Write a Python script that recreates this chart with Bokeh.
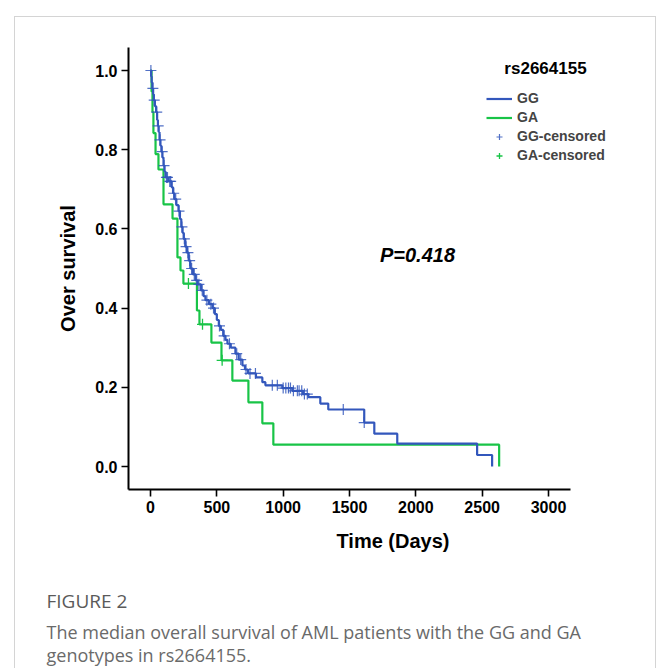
import numpy as np
from bokeh.plotting import figure
from bokeh.models import (Range1d, Legend, LegendItem, Label,
                          FixedTicker, PrintfTickFormatter)
from bokeh.embed import file_html
from bokeh.resources import INLINE

# ---------------- data ----------------
x_ticks = [0, 500, 1000, 1500, 2000, 2500, 3000]
y_ticks = [0.0, 0.2, 0.4, 0.6, 0.8, 1.0]

gg_time = [0, 5, 9, 14, 20, 25, 33, 42, 50, 56,
           62, 68, 75, 82, 90, 98, 106, 113, 135, 160,
           170, 180, 195, 211, 222, 232, 242, 250, 262, 275,
           288, 300, 320, 340, 356, 380, 400, 414, 440, 467,
           485, 500, 515, 530, 548, 565, 580, 605, 640, 665,
           693, 712, 735, 795, 843, 866, 994, 1069, 1150, 1190,
           1280, 1340, 1611, 1687, 1860, 2462, 2575]
gg_surv = [1.0, 0.985, 0.97, 0.955, 0.94, 0.925, 0.91, 0.895, 0.875, 0.86,
           0.845, 0.825, 0.81, 0.795, 0.78, 0.76, 0.745, 0.73, 0.72, 0.705,
           0.69, 0.675, 0.66, 0.645, 0.625, 0.605, 0.59, 0.575, 0.555, 0.54,
           0.52, 0.50, 0.485, 0.47, 0.46, 0.445, 0.43, 0.42, 0.41, 0.40,
           0.385, 0.37, 0.355, 0.345, 0.33, 0.32, 0.31, 0.30, 0.285, 0.27,
           0.255, 0.245, 0.235, 0.225, 0.213, 0.205, 0.198, 0.191, 0.183, 0.175,
           0.159, 0.144, 0.111, 0.083, 0.058, 0.029, 0.0]
gg_censored = [3, 18, 28, 47, 58, 72, 88, 102, 120, 128,
               145, 152, 175, 190, 215, 237, 255, 268, 282, 295,
               310, 330, 348, 365, 390, 425, 455, 475, 520, 555,
               595, 650, 680, 720, 750, 791, 918, 956, 1000, 1020,
               1040, 1055, 1077, 1107, 1120, 1140, 1160, 1182, 1453, 1611]

ga_time = [0, 8, 15, 22, 38, 60, 98, 166, 203, 226,
           248, 350, 369, 459, 535, 617, 738, 843, 926, 2628]
ga_surv = [1.0, 0.947, 0.895, 0.842, 0.789, 0.75, 0.662, 0.626, 0.528, 0.495,
           0.462, 0.394, 0.359, 0.313, 0.268, 0.217, 0.162, 0.109, 0.055, 0.0]
ga_censored = [286, 392, 540]

p_text = "P=0.418"
legend_title = "rs2664155"
labels = ["GG", "GA", "GG-censored", "GA-censored"]
caption_head = "FIGURE 2"
caption_lines = ["The median overall survival of AML patients with the GG and GA",
                 "genotypes in rs2664155."]

# ---------------- styling / layout ----------------
BLUE = "#3357bc"
GREEN = "#18c447"
FONT = "Liberation Sans"
CARD = "#d4d4d4"

W, H = 657, 668
FL, FT, FH = 128, 47, 442          # frame left/top/height (pixels)
FR = W                              # frame extends to the right edge (axis is bounded)
PX_PER_DAY = 398.0 / 3000.0
PX_PER_UNIT = 396.0
X0 = -(150 - FL) / PX_PER_DAY
X1 = X0 + (FR - FL) / PX_PER_DAY
XAX_END = X0 + (570 - FL) / PX_PER_DAY
Y1 = 1.0 + (70 - FT) / PX_PER_UNIT
Y0 = Y1 - FH / PX_PER_UNIT


def px2x(px):
    return X0 + (px - FL) / PX_PER_DAY


def px2y(py):
    return Y1 - (py - FT) / PX_PER_UNIT


def level_at(times, surv, t):
    idx = np.searchsorted(np.asarray(times), np.asarray(t), side="right") - 1
    return list(np.asarray(surv)[idx])


grad = f"linear-gradient({CARD},{CARD})"
p = figure(width=W, height=H, output_backend="svg", toolbar_location=None,
           x_range=Range1d(X0, X1), y_range=Range1d(Y0, Y1),
           min_border_left=FL, min_border_right=W - FR,
           min_border_top=FT, min_border_bottom=H - FT - FH,
           styles={"background": f"{grad} 14px 16px / 1px 700px no-repeat, "
                                 f"{grad} 14px 16px / 642px 1px no-repeat, "
                                 f"{grad} 655px 16px / 1px 700px no-repeat, #ffffff"})
p.outline_line_color = None
p.grid.visible = False
p.background_fill_color = None
p.border_fill_color = None

# curves
r_ga = p.step(ga_time, ga_surv, mode="after", line_color=GREEN, line_width=2.2)
r_gg = p.step(gg_time, gg_surv, mode="after", line_color=BLUE, line_width=2.2)
r_gac = p.scatter(ga_censored, level_at(ga_time, ga_surv, ga_censored), marker="cross",
                  size=11, line_color=GREEN, line_width=1.3)
r_ggc = p.scatter(gg_censored, level_at(gg_time, gg_surv, gg_censored), marker="cross",
                  size=11, line_color=BLUE, line_width=1.2, line_alpha=0.85)

# axes
for ax in (p.xaxis[0], p.yaxis[0]):
    ax.axis_line_width = 2
    ax.axis_line_color = "black"
    ax.major_tick_line_width = 1.6
    ax.major_tick_line_color = "black"
    ax.major_tick_in = 0
    ax.major_tick_out = 7
    ax.minor_tick_out = 0
    ax.minor_tick_in = 0
    ax.major_label_text_font = FONT
    ax.major_label_text_font_style = "bold"
    ax.major_label_text_font_size = "16px"
    ax.major_label_text_color = "black"
    ax.axis_label_text_font = FONT
    ax.axis_label_text_font_style = "bold"
    ax.axis_label_text_font_size = "20px"
    ax.axis_label_text_color = "black"
    ax.major_label_standoff = 4

p.xaxis.ticker = FixedTicker(ticks=x_ticks)
p.yaxis.ticker = FixedTicker(ticks=y_ticks)
p.yaxis.formatter = PrintfTickFormatter(format="%.1f")
p.xaxis.bounds = (X0, XAX_END)
p.xaxis.axis_label = "Time (Days)"
p.yaxis.axis_label = "Over survival"
p.xaxis.axis_label_standoff = 14
p.yaxis.axis_label_standoff = 13

# P value
p.add_layout(Label(x=px2x(417), y=px2y(254), text=p_text, text_font=FONT,
                   text_font_style="bold italic", text_font_size="20px",
                   text_align="center", text_baseline="middle", text_color="black"))

# legend
p.add_layout(Label(x=px2x(545), y=px2y(68), text=legend_title, text_font=FONT,
                   text_font_style="bold", text_font_size="17px",
                   text_align="center", text_baseline="middle", text_color="black"))
legend = Legend(items=[LegendItem(label=labels[0], renderers=[r_gg]),
                       LegendItem(label=labels[1], renderers=[r_ga]),
                       LegendItem(label=labels[2], renderers=[r_ggc]),
                       LegendItem(label=labels[3], renderers=[r_gac])],
                location=(358, 326), padding=0, margin=0, spacing=3,
                glyph_width=26, glyph_height=15, label_height=15, label_standoff=5,
                label_text_font=FONT, label_text_font_style="bold",
                label_text_font_size="14px", border_line_color=None,
                background_fill_alpha=0)
p.add_layout(legend)

# caption (placed in the panel below the plot so that it is not clipped)
p.add_layout(Label(x=px2x(46), y=px2y(600), text=caption_head, text_font="Open Sans",
                   text_font_size="19px", text_color="#5a5a5a",
                   text_align="left", text_baseline="middle"), "below")
for line, yy in zip(caption_lines, [631, 654]):
    p.add_layout(Label(x=px2x(46), y=px2y(yy), text=line, text_font="Open Sans",
                       text_font_size="18px", text_color="#6a6a6a",
                       text_align="left", text_baseline="middle"), "below")

open("out.html", "w").write(file_html(p, INLINE))
